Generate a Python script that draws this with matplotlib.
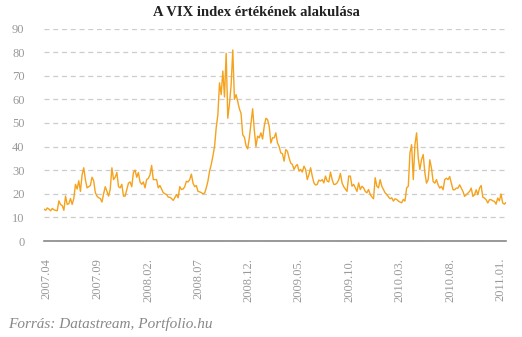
import numpy as np
import pandas as pd
import matplotlib
matplotlib.use("Agg")
import matplotlib.pyplot as plt
import matplotlib.dates as mdates

# VIX closing levels, sampled every 5 days from late March 2007
vix_2007 = [13.5, 13, 14, 13.5, 12.8, 13.8, 13.2, 13, 12.8, 17, 15.5, 15, 13, 19,
            15.5, 15.8, 18, 15.5, 18, 24, 22, 25.5, 21, 28, 31, 26, 22.5, 23, 23.5,
            27, 25.5, 20.5, 19, 18.3, 18, 16.5, 20, 23, 21, 19, 22, 31, 26, 27, 29, 23]
vix_2008a = [22.5, 24, 19, 19, 21.8, 24.5, 25, 23, 29, 30, 27, 29, 25, 24, 25, 22.5,
             26, 26.5, 28, 32, 26, 26, 26, 22.5, 23.5, 22, 20.5, 20, 19.7, 18.6, 18.5,
             18, 17.2, 18.3, 19.7, 18.3, 23, 21.8, 22, 23, 25.3, 25, 26, 28.3, 24.5,
             23, 23.5, 21, 20.8, 20.5]
vix_crisis = [20, 20.3, 22.5, 25.4, 29.6, 32.4, 36, 40, 48, 53.5, 67, 62, 72, 61,
              79.5, 52, 58, 66, 80.9, 60, 62, 59, 56, 54, 45, 44, 40.4, 39, 43.7, 50,
              56, 47, 40, 44.4, 43.7, 45.8, 43.2, 48.6, 52, 51.4, 48.6, 41.5, 43.7]
vix_2009 = [43.7, 45.8, 41.5, 40, 37.3, 37, 33.8, 38.7, 38, 35.2, 33, 32.4, 30.3,
            31.7, 32.4, 29.6, 30.3, 29.2, 31.7, 30.3, 26, 28.2, 31, 27.5, 24.6, 23.7,
            24, 25.8, 25.4, 26, 24.6, 27.5, 25.4, 25, 29.2, 26, 24, 24, 24.6, 26, 28.6,
            24.6, 23, 22, 21, 27.5]
vix_2010a = [27.5, 23.2, 24, 22.5, 21, 24.6, 21.8, 23.2, 22.5, 21, 20.4, 21.8, 19.7,
             18.7, 17.9, 26.8, 23.2, 22.5, 26, 23.2, 21.8, 20.4, 19.7, 18.7, 17.9,
             18.3, 16.9, 17.9, 17.6, 16.9, 16.5, 16.2, 17.6, 16.9, 22.5, 23.2, 37.3,
             40.8, 26, 40.8, 45.8, 35.2, 30.3, 34.5, 36.6, 28.9]
vix_2010b = [24.5, 26, 34.4, 30.8, 25.2, 24.5, 26, 23.8, 22.4, 23.1, 21.7, 26, 26.6,
             26, 27.3, 24.5, 21.7, 21.7, 22.4, 22.4, 23.8, 22.4, 21, 18.9, 19.6, 20.3,
             21, 22.4, 18.9, 19.6, 21.7, 19.6, 22.4, 23.5, 18.5, 18.2, 17.5, 16.1,
             17.5, 17.5, 17, 16.8, 15.6, 18.2, 17, 19.9, 16.1, 15.6, 16.3]

vix = vix_2007 + vix_2008a + vix_crisis + vix_2009 + vix_2010a + vix_2010b
dates = pd.date_range("2007-03-24", periods=len(vix), freq="5D")

tick_dates = ["2007-04-01", "2007-09-01", "2008-02-01", "2008-07-01", "2008-12-01",
              "2009-05-01", "2009-10-01", "2010-03-01", "2010-08-01", "2011-01-01"]
tick_labels = ["2007.04", "2007.09", "2008.02.", "2008.07", "2008.12.",
               "2009.05.", "2009.10.", "2010.03.", "2010.08.", "2011.01."]

fig = plt.figure(figsize=(5.22, 3.37), dpi=100)
ax = fig.add_axes([44 / 522, 1 - 241 / 337, 462 / 522, 212.5 / 337])

ax.plot(dates, vix, color="#F5A21C", lw=1.0)

ax.set_ylim(0, 90)
ax.set_yticks(range(0, 91, 10))
ax.set_xlim(dates[0], dates[-1])
ax.set_xticks(pd.to_datetime(tick_dates))
ax.set_xticklabels(tick_labels, rotation=90)

ax.yaxis.grid(True, color="#cccccc", linestyle=(0, (4, 3)), lw=0.9)
ax.set_axisbelow(True)
for side in ["top", "right", "left"]:
    ax.spines[side].set_visible(False)
ax.spines["bottom"].set_color("#888888")
ax.spines["bottom"].set_linewidth(1.2)

ax.tick_params(axis="both", length=0, colors="#999999", labelsize=9)
ax.tick_params(axis="y", pad=14)
ax.tick_params(axis="x", pad=12)
for lab in ax.get_xticklabels() + ax.get_yticklabels():
    lab.set_family("Liberation Serif")

fig.text(256 / 522, 1 - 13 / 337, "A VIX index értékének alakulása",
         ha="center", va="center", fontsize=10.5, fontweight="bold",
         family="Liberation Serif", color="#222222")
fig.text(8 / 522, 1 - 324 / 337, "Forrás: Datastream, Portfolio.hu",
         ha="left", va="center", fontsize=11, style="italic",
         family="Liberation Serif", color="#888888")

fig.savefig("out.png", dpi=100)
